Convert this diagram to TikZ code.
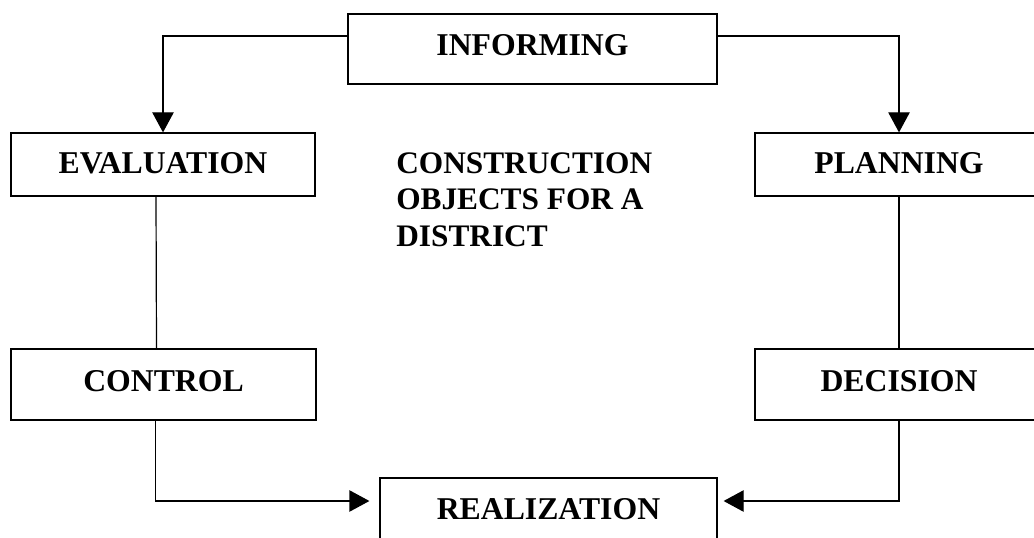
\documentclass[tikz,border=0pt]{standalone}
\usepackage{fontspec}
\setmainfont{Liberation Serif}
\usetikzlibrary{arrows.meta, positioning}
\tikzstyle{stage} = [rectangle, draw=black, line width=0.9pt, font=\bfseries\fontsize{23.8}{27}\selectfont, text height=16pt, text depth=6pt, minimum height=52.5pt, text centered]
\tikzstyle{line} = [line width=0.9pt]
\tikzstyle{arrow} = [line width=0.9pt, -{Triangle[length=15pt, width=16pt]}]

\begin{document}
\begin{tikzpicture}[x=0.75pt, y=-0.75pt]
    \clip (0,0) rectangle (1034,538);
    \node (inform) [stage, minimum width=276.75pt] at (532.5,49) {INFORMING};
    \node (evaluation) [stage, minimum width=228pt, minimum height=47.25pt, text depth=2pt] at (163,164.5) {EVALUATION};
    \node (planning) [stage, minimum width=216pt, minimum height=47.25pt, text depth=2pt] at (899,164.5) {PLANNING};
    \node (control) [stage, minimum width=228.75pt, minimum height=53.25pt] at (163.5,384.5) {CONTROL};
    \node (decision) [stage, minimum width=216pt, minimum height=53.25pt] at (899,384.5) {DECISION};
    \node (realization) [stage, minimum width=252.75pt] at (548.5,513) {REALIZATION};
    \node (objects) [anchor=north west, inner sep=0pt, align=left, font=\bfseries\fontsize{23.5}{27.5}\selectfont] at (396,152) {CONSTRUCTION\\OBJECTS FOR A\\DISTRICT};
    \draw [arrow] ([yshift=9.75pt]inform.west) -| (evaluation.north);
    \draw [arrow] ([yshift=9.75pt]inform.east) -| (planning.north);
    \draw [line] ([xshift=-5.25pt]evaluation.south) -- ([xshift=-5.25pt]control.north);
    \draw [line] (planning.south) -- (decision.north);
    \draw [arrow, shorten >=7.5pt] ([xshift=-6pt]control.south) |- ([yshift=9pt]realization.west);
    \draw [arrow, shorten >=4.5pt] (decision.south) |- ([yshift=9pt]realization.east);
\end{tikzpicture}
\end{document}
